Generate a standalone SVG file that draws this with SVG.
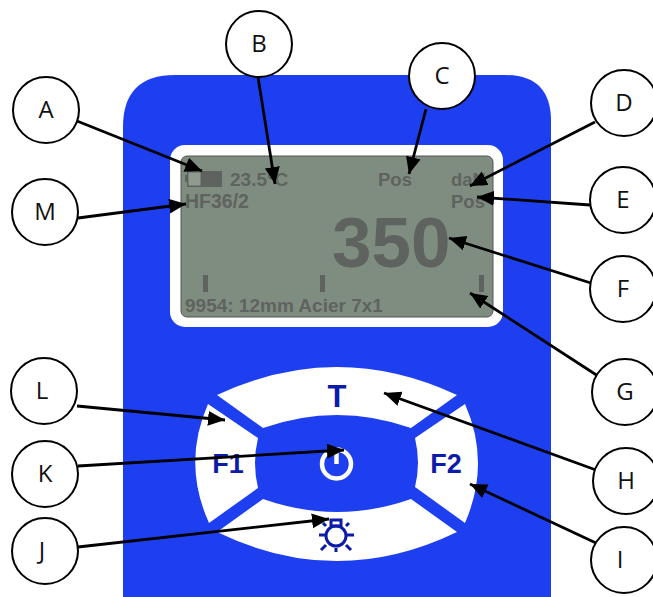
<svg xmlns="http://www.w3.org/2000/svg" width="653" height="597" viewBox="0 0 653 597">
<style>
.c{fill:#fff;stroke:#000;stroke-width:2}
.l{font:24px "Open Sans","Liberation Sans",Arial,sans-serif;text-anchor:middle;fill:#111}
.a{stroke:#000;stroke-width:2.8;fill:none;marker-end:url(#h)}
.s{font-family:"Liberation Sans",Arial,sans-serif;font-weight:bold;fill:#5f635f}
.b{font-family:"Liberation Sans",Arial,sans-serif;font-weight:bold;fill:#0c1ca8;text-anchor:middle}
.k{fill:#fff}
</style>
<defs><marker id="h" markerUnits="userSpaceOnUse" markerWidth="18" markerHeight="16" refX="17" refY="7.5" orient="auto"><path d="M0 0L17 7.5L0 15Z" fill="#000"/></marker></defs>
<rect width="653" height="597" fill="#fff"/>
<g id="device">
<path d="M175 75H505Q551 75 551 121V597H123V127Q123 75 175 75Z" fill="#1d3ff0"/>
<rect x="170" y="145" width="333" height="182" rx="15" fill="#fff"/>
<rect x="181" y="156" width="312" height="161" rx="6" fill="#7f8d80" stroke="#555" stroke-width="1"/>
<g fill="#5f635f">
<rect x="187" y="171" width="35" height="16"/><rect x="188" y="172" width="13" height="14" fill="#8f9b90" stroke="#5f635f"/><rect x="185" y="175" width="2" height="7"/>
<rect x="203" y="275" width="5" height="17"/><rect x="320" y="275" width="5" height="17"/><rect x="479" y="275" width="5" height="17"/>
</g>
<text class="s" x="230" y="186" font-size="19">23.5°C</text>
<text class="s" x="378" y="186" font-size="18.5">Pos</text>
<text class="s" x="451" y="186" font-size="18.5">daN</text>
<text class="s" x="451" y="208" font-size="18.5">Pos</text>
<text class="s" x="185" y="208" font-size="19.5">HF36/2</text>
<text class="s" x="332" y="267" font-size="71">350</text>
<text class="s" x="185" y="312" font-size="19">9954: 12mm Acier 7x1</text>
</g>
<g id="btn-t"><path class="k" d="M217 395Q337 339 457 395L411 428Q337 402 263 428Z"/><text class="b" x="337" y="407" font-size="31">T</text></g>
<g id="btn-f1"><path class="k" d="M208 404L258 438Q252 463 258 488L209 523Q182 463 208 404Z"/><text class="b" x="228" y="473" font-size="27">F1</text></g>
<g id="btn-f2"><path class="k" d="M465 404L415 438Q421 463 415 487L465 523Q491 463 465 404Z"/><text class="b" x="446" y="473" font-size="27">F2</text></g>
<g id="btn-light"><path class="k" d="M217 532L263 499Q337 525 411 499L457 532Q337 590 217 532Z"/>
<g fill="none" stroke="#0c1ca8" stroke-width="3"><circle cx="336" cy="536" r="10"/><rect x="331" y="520" width="10" height="6"/><path d="M319 535H326M346 535H354M336 548V552M326 545L321 550M346 545L351 550M326 526L323 523M346 526L349 523"/></g></g>
<g id="btn-power" fill="none" stroke="#fff" stroke-width="4.5"><circle cx="336.500" cy="464" r="14.500"/><path d="M336.500 451V464"/></g>
<g id="connectors">
<path class="a" d="M77 121L202 171"/>
<path class="a" d="M258 77L275 184"/>
<path class="a" d="M426 109L409 174"/>
<path class="a" d="M595 122L470 186"/>
<path class="a" d="M590 205L477 197"/>
<path class="a" d="M594 284L449 238"/>
<path class="a" d="M598 376L470 293"/>
<path class="a" d="M596 470L384 393"/>
<path class="a" d="M596 543L470 484"/>
<path class="a" d="M78 547L329 519"/>
<path class="a" d="M78 466L344 450"/>
<path class="a" d="M77 406L225 420"/>
<path class="a" d="M78 218L186 204"/>
</g>
<g id="A"><circle class="c" cx="46" cy="110" r="33"/><text class="l" x="46" y="118">A</text></g>
<g id="B"><circle class="c" cx="259" cy="44" r="33"/><text class="l" x="259" y="52">B</text></g>
<g id="C"><circle class="c" cx="442" cy="76" r="33"/><text class="l" x="442" y="84">C</text></g>
<g id="D"><circle class="c" cx="624" cy="103" r="33"/><text class="l" x="624" y="111">D</text></g>
<g id="E"><circle class="c" cx="623" cy="200" r="33"/><text class="l" x="623" y="208">E</text></g>
<g id="F"><circle class="c" cx="623" cy="289" r="33"/><text class="l" x="623" y="297">F</text></g>
<g id="G"><circle class="c" cx="625" cy="392" r="33"/><text class="l" x="625" y="400">G</text></g>
<g id="H"><circle class="c" cx="626" cy="481" r="33"/><text class="l" x="626" y="489">H</text></g>
<g id="I"><circle class="c" cx="624" cy="560" r="33"/><text class="l" x="620" y="568">I</text></g>
<g id="J"><circle class="c" cx="45" cy="551" r="33"/><text class="l" x="42" y="559">J</text></g>
<g id="K"><circle class="c" cx="45" cy="474" r="33"/><text class="l" x="45" y="482">K</text></g>
<g id="L"><circle class="c" cx="44" cy="391" r="33"/><text class="l" x="42" y="399">L</text></g>
<g id="M"><circle class="c" cx="45" cy="212" r="33"/><text class="l" x="45" y="220">M</text></g>
</svg>
